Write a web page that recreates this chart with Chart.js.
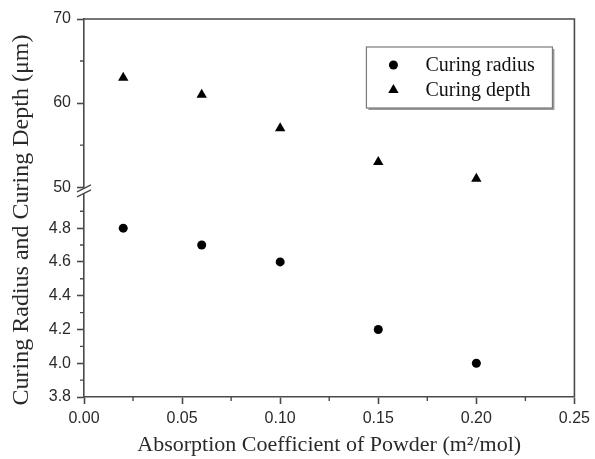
<!DOCTYPE html>
<html><head><meta charset="utf-8">
<script src="https://cdn.jsdelivr.net/npm/chart.js@4.4.1/dist/chart.umd.min.js"></script>
<style>html,body{margin:0;padding:0;background:#fff;}</style>
</head><body>
<canvas id="c" width="595" height="459" style="display:block;width:595px;height:459px"></canvas>
<script>
// ---- data ----
const absorption = [0.02, 0.06, 0.10, 0.15, 0.20];
const curingRadius = [4.8, 4.7, 4.6, 4.2, 4.0];
const curingDepth = [63, 61, 57, 53, 51];
const seriesLabels = ['Curing radius', 'Curing depth'];
const xTicks = [0, 0.05, 0.10, 0.15, 0.20, 0.25];
const xMinorTicks = [0.025, 0.075, 0.125, 0.175, 0.225];
const yTopTicks = [50, 60, 70];
const yTopMinorTicks = [55, 65];
const yLowTicks = [3.8, 4.0, 4.2, 4.4, 4.6, 4.8];
const yLowMinorTicks = [3.9, 4.1, 4.3, 4.5, 4.7, 4.9];
const xTitle = 'Absorption Coefficient of Powder (m²/mol)';
const yTitle = 'Curing Radius and Curing Depth (μm)';

// ---- styles ----
const AXIS = '#4a4a4a';
const TXT = '#2a2a2a';
const tickFont = {family: 'Liberation Sans', size: 16};
const serif = 'Liberation Serif';

function drawMarker(ctx, style, x, y, r) {
  ctx.beginPath();
  if (style === 'circle') {
    ctx.arc(x, y, r, 0, Math.PI * 2);
  } else {
    let rad = 0;
    ctx.moveTo(x + Math.sin(rad) * r, y - Math.cos(rad) * r);
    rad += 2 * Math.PI / 3;
    ctx.lineTo(x + Math.sin(rad) * r, y - Math.cos(rad) * r);
    rad += 2 * Math.PI / 3;
    ctx.lineTo(x + Math.sin(rad) * r, y - Math.cos(rad) * r);
    ctx.closePath();
  }
  ctx.fill();
}

const extras = {
  id: 'extras',
  afterDraw(chart) {
    const ctx = chart.ctx, a = chart.chartArea;
    const sx = chart.scales.x, st = chart.scales.yTop, sl = chart.scales.yLow;
    ctx.save();
    ctx.strokeStyle = AXIS;
    ctx.lineWidth = 1.6;
    // frame top & right
    ctx.beginPath();
    ctx.moveTo(a.left, a.top); ctx.lineTo(a.right, a.top); ctx.lineTo(a.right, a.bottom);
    ctx.stroke();
    // minor ticks
    ctx.lineWidth = 1.4;
    ctx.beginPath();
    xMinorTicks.forEach(v => { const p = sx.getPixelForValue(v); ctx.moveTo(p, a.bottom); ctx.lineTo(p, a.bottom + 4); });
    yTopMinorTicks.forEach(v => { const p = st.getPixelForValue(v); ctx.moveTo(a.left - 4, p); ctx.lineTo(a.left, p); });
    yLowMinorTicks.forEach(v => { const p = sl.getPixelForValue(v); ctx.moveTo(a.left - 4, p); ctx.lineTo(a.left, p); });
    ctx.stroke();
    // axis break mark
    const bx = a.left, by = Math.min(st.bottom, sl.bottom);
    ctx.fillStyle = '#fff';
    ctx.beginPath();
    ctx.moveTo(bx - 7, by + 1); ctx.lineTo(bx + 7, by - 6);
    ctx.lineTo(bx + 7, by - 1); ctx.lineTo(bx - 7, by + 6);
    ctx.closePath(); ctx.fill();
    ctx.lineWidth = 1.4;
    ctx.beginPath();
    ctx.moveTo(bx - 7, by + 1); ctx.lineTo(bx + 7, by - 6);
    ctx.moveTo(bx - 7, by + 6); ctx.lineTo(bx + 7, by - 1);
    ctx.stroke();
    // legend
    const lx = a.right - 208, ly = a.top + 28, lw = 186, lh = 61;
    ctx.fillStyle = '#9a9a9a';
    ctx.fillRect(lx + 2, ly + 2, lw, lh);
    ctx.fillStyle = '#fff';
    ctx.fillRect(lx, ly, lw, lh);
    ctx.strokeStyle = '#7a7a7a';
    ctx.lineWidth = 1.2;
    ctx.strokeRect(lx, ly, lw, lh);
    ctx.fillStyle = '#000';
    chart.data.datasets.forEach((ds, i) => {
      const cy = ly + 18 + i * 25;
      drawMarker(ctx, ds.pointStyle, lx + 27, cy, ds.pointStyle === 'circle' ? 4.5 : 6);
      ctx.fillStyle = '#111';
      ctx.font = '20px "' + serif + '"';
      ctx.textAlign = 'left';
      ctx.textBaseline = 'middle';
      ctx.fillText(ds.label, lx + 59, cy + 1);
      ctx.fillStyle = '#000';
    });
    // y title
    ctx.save();
    ctx.translate(22, 220);
    ctx.rotate(-Math.PI / 2);
    ctx.fillStyle = TXT;
    ctx.font = '24px "' + serif + '"';
    ctx.textAlign = 'center';
    ctx.textBaseline = 'middle';
    ctx.fillText(yTitle, 0, 0);
    ctx.restore();
    ctx.restore();
  }
};

const gridOpts = {display: true, drawOnChartArea: false, drawTicks: true, tickLength: 7, tickColor: AXIS, tickWidth: 1.6};
const borderOpts = {display: true, color: AXIS, width: 1.6};

new Chart(document.getElementById('c'), {
  type: 'scatter',
  data: {
    datasets: [
      {label: seriesLabels[0], data: absorption.map((x, i) => ({x, y: curingRadius[i]})), yAxisID: 'yLow',
       pointStyle: 'circle', pointRadius: 4.5, backgroundColor: '#000', borderColor: '#000', borderWidth: 0, showLine: false},
      {label: seriesLabels[1], data: absorption.map((x, i) => ({x, y: curingDepth[i]})), yAxisID: 'yTop',
       pointStyle: 'triangle', pointRadius: 6, backgroundColor: '#000', borderColor: '#000', borderWidth: 0, showLine: false}
    ]
  },
  options: {
    responsive: false,
    animation: false,
    devicePixelRatio: 1,
    layout: {padding: {left: 35, right: 20, top: 19, bottom: 0}},
    plugins: {legend: {display: false}, tooltip: {enabled: false}},
    scales: {
      x: {
        type: 'linear', position: 'bottom', min: 0, max: 0.25,
        afterBuildTicks: s => { s.ticks = xTicks.map(v => ({value: v})); },
        ticks: {callback: v => v.toFixed(2), font: tickFont, color: TXT, padding: 5, maxRotation: 0, autoSkip: false},
        grid: gridOpts, border: borderOpts,
        title: {display: true, text: xTitle, color: TXT, font: {family: serif, size: 22}, padding: {top: 0, bottom: 1}},
        afterFit: s => { s.height = 62; }
      },
      yLow: {
        type: 'linear', position: 'left', stack: 'y', stackWeight: 206, min: 3.8, max: 5.021,
        afterBuildTicks: s => { s.ticks = yLowTicks.map(v => ({value: v})); },
        ticks: {callback: v => v.toFixed(1), font: tickFont, color: TXT, padding: 6, autoSkip: false},
        grid: gridOpts, border: borderOpts,
        afterFit: s => { s.width = 49; }
      },
      yTop: {
        type: 'linear', position: 'left', stack: 'y', stackWeight: 171.7, min: 49.56, max: 70,
        afterBuildTicks: s => { s.ticks = yTopTicks.map(v => ({value: v})); },
        ticks: {callback: v => String(v), font: tickFont, color: TXT, padding: 6, autoSkip: false},
        grid: gridOpts, border: borderOpts,
        afterFit: s => { s.width = 49; }
      }
    }
  },
  plugins: [extras]
});
</script>
</body></html>
